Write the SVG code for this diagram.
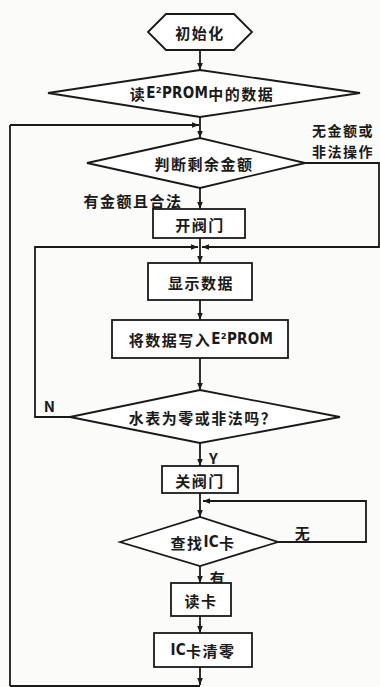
<svg xmlns="http://www.w3.org/2000/svg" width="380" height="687" viewBox="0 0 380 687">
<defs>
<marker id="ah" viewBox="0 0 10 10" refX="10" refY="5" markerWidth="7" markerHeight="7" orient="auto" markerUnits="userSpaceOnUse">
<path d="M0,1 L10,5 L0,9 Z" fill="#1a1a1a"/>
</marker>
</defs>
<style>
.s{fill:#fff;stroke:#1a1a1a;stroke-width:1.8}
.l{fill:none;stroke:#1a1a1a;stroke-width:1.8}
.t{font-family:"Noto Sans CJK SC","Liberation Sans",sans-serif;font-weight:bold;font-size:15px;fill:#1a1a1a;text-anchor:middle;dominant-baseline:central;letter-spacing:1.5px}
.lat{font-family:"Liberation Sans Narrow","DejaVu Sans Condensed","Liberation Sans",sans-serif;letter-spacing:0.3px}
.sm{font-size:14px}
</style>
<rect width="380" height="687" fill="#fbfbfa"/>
<g id="connectors">
<line class="l" x1="200" y1="50" x2="200" y2="70" marker-end="url(#ah)"/>
<line class="l" x1="200" y1="117" x2="200" y2="138" marker-end="url(#ah)"/>
<line class="l" x1="10" y1="125" x2="199" y2="125" marker-end="url(#ah)"/>
<polyline class="l" points="10,686 10,125"/>
<polyline class="l" points="305,163 379,163 379,247 202,247" marker-end="url(#ah)"/>
<line class="l" x1="200" y1="188" x2="200" y2="209" marker-end="url(#ah)"/>
<line class="l" x1="200" y1="238" x2="200" y2="263" marker-end="url(#ah)"/>
<polyline class="l" points="70,417 35,417 35,247 198,247" marker-end="url(#ah)"/>
<line class="l" x1="200" y1="300" x2="200" y2="320" marker-end="url(#ah)"/>
<line class="l" x1="200" y1="358" x2="200" y2="390" marker-end="url(#ah)"/>
<line class="l" x1="200" y1="443" x2="200" y2="466" marker-end="url(#ah)"/>
<line class="l" x1="200" y1="493" x2="200" y2="517" marker-end="url(#ah)"/>
<polyline class="l" points="278,542 366,542 366,501 203,501" marker-end="url(#ah)"/>
<line class="l" x1="200" y1="566" x2="200" y2="583" marker-end="url(#ah)"/>
<line class="l" x1="200" y1="616" x2="200" y2="633" marker-end="url(#ah)"/>
<line class="l" x1="200" y1="667" x2="200" y2="685" marker-end="url(#ah)"/>
<line class="l" x1="10" y1="686" x2="200" y2="686"/>
<text class="t sm" x="343" y="130">无金额或</text>
<text class="t sm" x="343" y="151">非法操作</text>
<text class="t" x="133" y="200">有金额且合法</text>
<text class="t" x="50" y="405">N</text>
<text class="t" x="214" y="457">Y</text>
<text class="t" x="303" y="532">无</text>
<text class="t" x="218" y="577">有</text>
</g>
<g id="init">
<polygon class="s" points="148,32 166,14 234,14 252,32 234,50 166,50"/>
<text class="t" x="200" y="32">初始化</text>
</g>
<g id="read-eeprom">
<polygon class="s" points="48,93 200,70 360,93 200,117"/>
<text class="t" x="202" y="93">读<tspan class="lat">E²PROM</tspan>中的数据</text>
</g>
<g id="check-balance">
<polygon class="s" points="87,163 200,138 305,163 200,188"/>
<text class="t" x="204" y="163">判断剩余金额</text>
</g>
<g id="open-valve">
<rect class="s" x="153" y="209" width="92" height="29"/>
<text class="t" x="200" y="224">开阀门</text>
</g>
<g id="show-data">
<rect class="s" x="148" y="263" width="104" height="37"/>
<text class="t" x="201" y="282">显示数据</text>
</g>
<g id="write-eeprom">
<rect class="s" x="112" y="320" width="176" height="38"/>
<text class="t" x="201" y="339">将数据写入<tspan class="lat">E²PROM</tspan></text>
</g>
<g id="meter-check">
<polygon class="s" points="70,417 200,390 340,417 200,443"/>
<text class="t" x="203" y="417">水表为零或非法吗？</text>
</g>
<g id="close-valve">
<rect class="s" x="162" y="466" width="76" height="27"/>
<text class="t" x="200" y="480">关阀门</text>
</g>
<g id="find-card">
<polygon class="s" points="120,542 200,517 278,542 200,566"/>
<text class="t" x="203" y="542">查找<tspan class="lat">IC</tspan>卡</text>
</g>
<g id="read-card">
<rect class="s" x="171" y="583" width="60" height="33"/>
<text class="t" x="201" y="600">读卡</text>
</g>
<g id="clear-card">
<rect class="s" x="154" y="633" width="98" height="34"/>
<text class="t" x="203" y="650"><tspan class="lat">IC</tspan>卡清零</text>
</g>
</svg>
